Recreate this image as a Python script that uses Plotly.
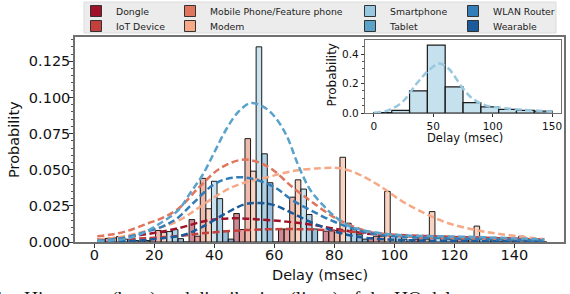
import numpy as np
import plotly.graph_objects as go

# ---------------- data ----------------
categories = ['Dongle', 'IoT Device', 'Mobile Phone/Feature phone', 'Modem',
              'Smartphone', 'Tablet', 'WLAN Router', 'Wearable']
palette = ['#a1122a', '#c53f3d', '#df755d', '#f5a987',
           '#98c8e0', '#5ba2cb', '#337eb8', '#1b5a9b']

bin_edges = [1.8, 16.7, 31.6, 46.5, 61.4, 76.3, 91.2, 106.1, 121.0, 135.9, 150.8]

prob_dongle = [0.0018, 0.001, 0.0155, 0.0197, 0.009, 0.0075, 0.003, 0.002, 0.002, 0.0015]
prob_iot = [0.0025, 0.003, 0.004, 0.0086, 0.009, 0.008, 0.004, 0.003, 0.002, 0.0015]
prob_mobile = [0.0028, 0.008, 0.044, 0.0715, 0.031, 0.008, 0.004, 0.002, 0.0015, 0.002]
prob_modem = [0.0037, 0.0065, 0.023, 0.049, 0.043, 0.0586, 0.035, 0.021, 0.011, 0.004]
prob_smartphone = [0.002, 0.0072, 0.042, 0.135, 0.0366, 0.013, 0.005, 0.003, 0.0025, 0.0015]
prob_tablet = [0.0015, 0.0086, 0.030, 0.061, 0.019, 0.0095, 0.004, 0.003, 0.002, 0.001]
prob_wlan = [0.001, 0.0023, 0.0076, 0.041, 0.009, 0.005, 0.002, 0.002, 0.0015, 0.001]
prob_wearable = [0.0, 0.0, 0.002, 0.0, 0.0, 0.002, 0.0, 0.0, 0.0, 0.0]

# dashed distribution curves
curve_dongle_x = [1, 6, 17, 28, 38, 47, 55, 64, 73, 82, 90, 102, 118, 135, 146, 150]
curve_dongle_y = [0.0018, 0.0026, 0.0053, 0.0095, 0.0150, 0.0164, 0.0155, 0.0141, 0.0118,
                  0.0085, 0.006, 0.0042, 0.0033, 0.0026, 0.0019, 0.0017]
curve_iot_x = [1, 10, 20, 30, 36, 47, 58, 70, 81, 90, 100, 110, 120, 130, 140, 150]
curve_iot_y = [0.0015, 0.002, 0.003, 0.0045, 0.006, 0.0078, 0.0088, 0.0088, 0.0078,
               0.0065, 0.005, 0.0042, 0.0035, 0.0028, 0.0022, 0.0017]
curve_mobile_x = [1, 8, 13, 18, 22, 28, 35, 42, 50, 58, 66, 73, 80, 86, 92, 100, 110, 120, 130, 140, 150]
curve_mobile_y = [0.004, 0.006, 0.009, 0.013, 0.016, 0.023, 0.038, 0.051, 0.057, 0.052, 0.038,
                  0.027, 0.017, 0.011, 0.007, 0.0045, 0.003, 0.0025, 0.002, 0.0015, 0.001]
curve_modem_x = [1, 10, 18, 25, 30, 35, 40, 45, 50, 58, 66, 75, 82, 88, 95, 102, 110, 118,
                 127, 135, 145, 150]
curve_modem_y = [0.0015, 0.004, 0.008, 0.012, 0.017, 0.024, 0.031, 0.037, 0.041, 0.045, 0.049,
                 0.051, 0.051, 0.047, 0.039, 0.029, 0.020, 0.013, 0.0083, 0.0056, 0.003, 0.002]
curve_tall_x = [1, 5, 10, 15, 22, 28, 32, 36, 40, 44, 48, 52, 56, 60, 64, 68, 72, 76, 80, 85,
                90, 100, 110, 120, 130, 140, 150]
curve_tall_y = [0.0005, 0.001, 0.002, 0.005, 0.013, 0.022, 0.034, 0.046, 0.062, 0.078, 0.090,
                0.096, 0.094, 0.087, 0.074, 0.053, 0.036, 0.026, 0.018, 0.011, 0.008, 0.005,
                0.0042, 0.0038, 0.0033, 0.0025, 0.0018]
curve_mid_x = [1, 10, 17, 23, 28, 33, 40, 46, 52, 60, 66, 73, 80, 86, 92, 100, 110, 120, 130, 140, 150]
curve_mid_y = [0.0008, 0.003, 0.007, 0.011, 0.017, 0.027, 0.040, 0.0445, 0.044, 0.038, 0.029,
               0.021, 0.014, 0.0095, 0.006, 0.004, 0.003, 0.0025, 0.002, 0.0015, 0.001]
curve_dark_x = [1, 15, 22, 30, 36, 44, 50, 55, 60, 66, 73, 82, 90, 100, 110, 120, 135, 150]
curve_dark_y = [0.0003, 0.001, 0.0025, 0.005, 0.0105, 0.020, 0.026, 0.027, 0.0255, 0.020,
                0.013, 0.0062, 0.003, 0.0015, 0.001, 0.0008, 0.0005, 0.0003]

# inset: Smartphone only
inset_edges = [0, 15, 30, 45, 60, 75, 90, 105, 120, 135, 150]
inset_probs = [0.003, 0.018, 0.15, 0.46, 0.177, 0.07, 0.041, 0.025, 0.018, 0.013]
inset_curve_x = [0, 12, 24, 36, 47, 55, 63, 74, 83, 94, 108, 124, 141, 150]
inset_curve_y = [0.002, 0.018, 0.075, 0.2, 0.295, 0.335, 0.30, 0.177, 0.098, 0.052, 0.034,
                 0.023, 0.014, 0.009]

probs = [prob_dongle, prob_iot, prob_mobile, prob_modem, prob_smartphone,
         prob_tablet, prob_wlan, prob_wearable]
curves = [
    (curve_dongle_x, curve_dongle_y, palette[0]),
    (curve_iot_x, curve_iot_y, palette[1]),
    (curve_modem_x, curve_modem_y, palette[3]),
    (curve_mobile_x, curve_mobile_y, palette[2]),
    (curve_dark_x, curve_dark_y, palette[7]),
    (curve_mid_x, curve_mid_y, palette[6]),
    (curve_tall_x, curve_tall_y, palette[5]),
]


def rgba(h, a):
    h = h.lstrip('#')
    return 'rgba(%d,%d,%d,%.2f)' % (int(h[0:2], 16), int(h[2:4], 16), int(h[4:6], 16), a)


FONT = 'DejaVu Sans'
fig = go.Figure()

edges = np.array(bin_edges)
widths = np.diff(edges)
n = len(categories)
for i, (cat, p) in enumerate(zip(categories, probs)):
    fig.add_trace(go.Bar(
        x=list(edges[:-1]), y=p, width=list(widths / n), offset=list(i * widths / n),
        marker=dict(color=rgba(palette[i], 0.5), line=dict(color='#1a1a1a', width=1)),
        showlegend=False, xaxis='x', yaxis='y', hoverinfo='skip'))

for cx, cy, col in curves:
    fig.add_trace(go.Scatter(
        x=cx, y=cy, mode='lines', line=dict(color=col, width=2.5, dash='7px,3.5px', shape='spline'),
        showlegend=False, xaxis='x', yaxis='y', hoverinfo='skip'))

# inset
ie = np.array(inset_edges, dtype=float)
fig.add_trace(go.Bar(
    x=list(ie[:-1]), y=inset_probs, width=list(np.diff(ie)), offset=0,
    marker=dict(color=rgba(palette[4], 0.55), line=dict(color='#1a1a1a', width=1.2)),
    showlegend=False, xaxis='x2', yaxis='y2', hoverinfo='skip'))
fig.add_trace(go.Scatter(
    x=inset_curve_x, y=inset_curve_y, mode='lines',
    line=dict(color=palette[4], width=2.5, dash='7px,3.5px', shape='spline'),
    showlegend=False, xaxis='x2', yaxis='y2', hoverinfo='skip'))

# legend entries (one legend per entry, laid out as 4 columns x 2 rows)
col_left = [76, 170, 350, 453]
row_mid = [11, 26]
W, H = 570, 294
legend_layout = {}
for i, cat in enumerate(categories):
    key = 'legend' if i == 0 else 'legend%d' % (i + 1)
    fig.add_trace(go.Scatter(
        x=[None], y=[None], name=cat, legend=key, mode='markers',
        marker=dict(symbol='square', size=11, color=palette[i], line=dict(color='#333333', width=1)),
        showlegend=True, xaxis='x', yaxis='y'))
    c, r = i // 2, i % 2
    legend_layout[key] = dict(
        x=col_left[c] / W, y=1 - row_mid[r] / H, xref='container', yref='container',
        xanchor='left', yanchor='middle', bgcolor='rgba(0,0,0,0)', borderwidth=0,
        font=dict(family=FONT, size=9.3, color='#222222'))

L, R, T, B = 75, 564, 37, 242
pw, ph = R - L, B - T


def px(xp):
    return (xp - L) / pw


def py(yp):
    return (B - yp) / ph


def axis(**kw):
    d = dict(showline=True, mirror=True, linecolor='#707070', showgrid=False,
             zeroline=False, ticks='outside', tickcolor='#333333', autorange=False)
    d.update(kw)
    return d


def title_ann(text, xp, yp, size, angle=0):
    return dict(text=text, xref='paper', yref='paper', x=px(xp), y=py(yp),
                xanchor='center', yanchor='middle', showarrow=False, textangle=angle,
                font=dict(family=FONT, size=size, color='#111111'))


fig.update_layout(
    width=W, height=H,
    margin=dict(l=L, r=W - R, t=T, b=H - B, autoexpand=False),
    paper_bgcolor='white', plot_bgcolor='white', barmode='overlay',
    font=dict(family=FONT, color='#111111'),
    xaxis=axis(domain=[0, 1], anchor='y', range=[-6.43, 156.57], linewidth=1.5, ticklen=4,
               tickvals=[0, 20, 40, 60, 80, 100, 120, 140],
               tickfont=dict(size=14.5), ticklabelstandoff=-5),
    yaxis=axis(domain=[0, 1], anchor='x', range=[0, 0.1418], linewidth=1.5, ticklen=4,
               tickvals=[0, 0.025, 0.05, 0.075, 0.1, 0.125], tickformat='.3f',
               tickfont=dict(size=14.5), ticklabelstandoff=-4,
               minor=dict(dtick=0.005, ticks='outside', ticklen=2, tickcolor='#555555')),
    xaxis2=axis(domain=[px(365), px(561)], anchor='y2', range=[-7.5, 157.5],
                linewidth=1.3, ticklen=3, tickvals=[0, 50, 100, 150],
                tickfont=dict(size=10.5)),
    yaxis2=axis(domain=[py(113), py(40)], anchor='x2', range=[0, 0.495],
                linewidth=1.3, ticklen=3, tickvals=[0, 0.2, 0.4], tickformat='.1f',
                tickfont=dict(size=10.5),
                minor=dict(dtick=0.05, ticks='outside', ticklen=1.5, tickcolor='#555555')),
    shapes=[dict(type='rect', xref='paper', yref='paper', x0=px(84), x1=px(556),
                 y0=py(33), y1=py(2), fillcolor='#ececec', line=dict(color='#dcdcdc', width=1),
                 layer='below')],
    annotations=[
        title_ann('Delay (msec)', 320, 275, 14.5),
        title_ann('Probability', 13.5, 139.5, 14.5, -90),
        title_ann('Delay (msec)', 464.5, 138, 11.5),
        title_ann('Probability', 332, 75.5, 12, -90),
        dict(text='Fig. 4:', xref='paper', yref='paper', x=px(10), y=py(286), xanchor='right',
             yanchor='top', showarrow=False, font=dict(family='Liberation Serif', size=19.5, color='#111111')),
        dict(text='Histogram (bars) and distribution (lines) of the HO delay', xref='paper',
             yref='paper', x=px(22), y=py(286), xanchor='left', yanchor='top', showarrow=False,
             font=dict(family='Liberation Serif', size=19.5, color='#111111')),
    ],
    **legend_layout,
)

fig.write_html('out.html', config={'displayModeBar': False},
               post_script="document.body.style.margin='0';document.body.style.overflow='hidden';")
